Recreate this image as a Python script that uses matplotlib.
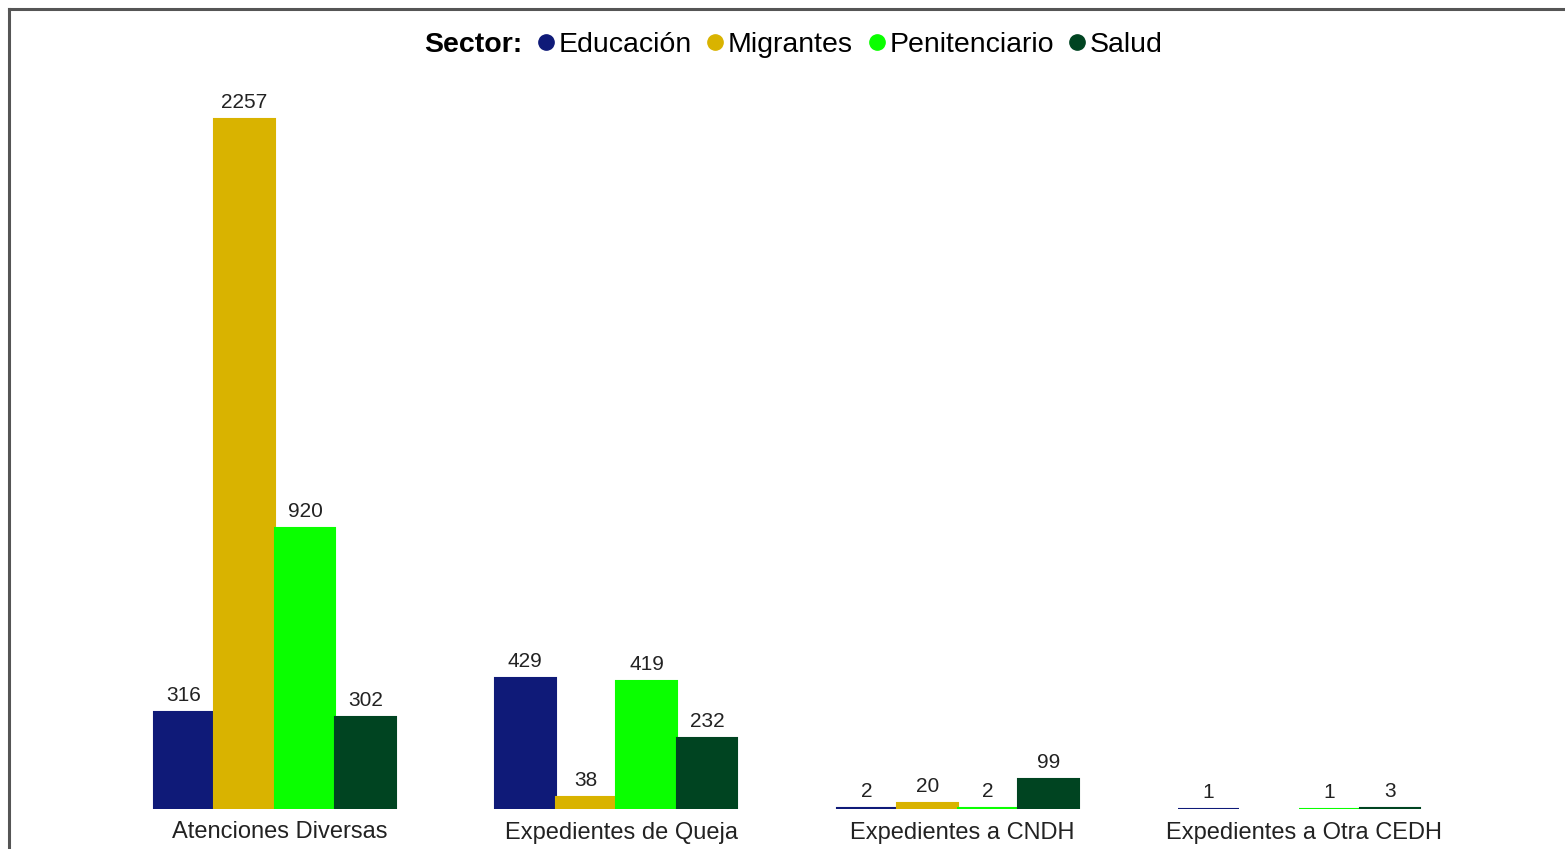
import matplotlib
matplotlib.use("Agg")
import matplotlib.pyplot as plt
import matplotlib.transforms as mtransforms
from matplotlib.lines import Line2D
import numpy as np

plt.rcParams["font.family"] = ["Liberation Sans", "DejaVu Sans"]

categories = ["Atenciones Diversas", "Expedientes de Queja",
              "Expedientes a CNDH", "Expedientes a Otra CEDH"]
sectors = ["Educación", "Migrantes", "Penitenciario", "Salud"]
educacion = [316, 429, 2, 1]
migrantes = [2257, 38, 20, None]
penitenciario = [920, 419, 2, 1]
salud = [302, 232, 99, 3]
colors = ["#0f1a78", "#d9b300", "#0aff00", "#004421"]

series = [educacion, migrantes, penitenciario, salud]

fig = plt.figure(figsize=(15.65, 8.49), dpi=100)
ax = fig.add_axes([104 / 1565, 40 / 849, 1366 / 1565, 734 / 849])

x = np.arange(len(categories))
group_w = 0.71
w = group_w / len(sectors)
for i, (vals, col) in enumerate(zip(series, colors)):
    pos = x - group_w / 2 + w * (i + 0.5)
    for xp, v in zip(pos, vals):
        if v is None:
            continue
        ax.bar(xp, v, width=w, color=col, edgecolor=col, linewidth=1.5)
        ax.annotate(str(v), (xp, v), xytext=(0, 5), textcoords="offset points",
                    ha="center", va="bottom", fontsize=15, color="#222222")

ax.set_xlim(-0.5, 3.5)
ax.set_ylim(0, 2400)
ax.set_xticks(x)
ax.set_xticklabels(categories, fontsize=17, color="#222222")
ax.tick_params(axis="x", length=0, pad=9)
shift = mtransforms.ScaledTranslation(5 / 100, 0, fig.dpi_scale_trans)
for lbl in ax.get_xticklabels():
    lbl.set_transform(lbl.get_transform() + shift)
ax.set_yticks([])
for s in ax.spines.values():
    s.set_visible(False)

# legend: bold "Sector:" then circle markers
handles = [Line2D([], [], linestyle="none", marker=None)]
labels = ["Sector:"]
for name, col in zip(sectors, colors):
    handles.append(Line2D([], [], linestyle="none", marker="o", markersize=11,
                          markerfacecolor=col, markeredgecolor=col))
    labels.append(name)
leg = fig.legend(handles, labels, loc="center", bbox_to_anchor=(784 / 1565, 1 - 45 / 849),
                 ncol=5, frameon=False, fontsize=20.5, handlelength=0.45,
                 handletextpad=0.22, columnspacing=0.6, borderpad=0)
leg.get_texts()[0].set_fontweight("bold")

# outer frame (only left and top edges visible in the crop)
fig.add_artist(Line2D([8.5 / 1565, 8.5 / 1565], [0, 1 - 8.5 / 849],
                      transform=fig.transFigure, color="#555555", linewidth=2.2))
fig.add_artist(Line2D([8.5 / 1565, 1], [1 - 8.5 / 849, 1 - 8.5 / 849],
                      transform=fig.transFigure, color="#555555", linewidth=2.2))

fig.savefig("out.png", dpi=100)
